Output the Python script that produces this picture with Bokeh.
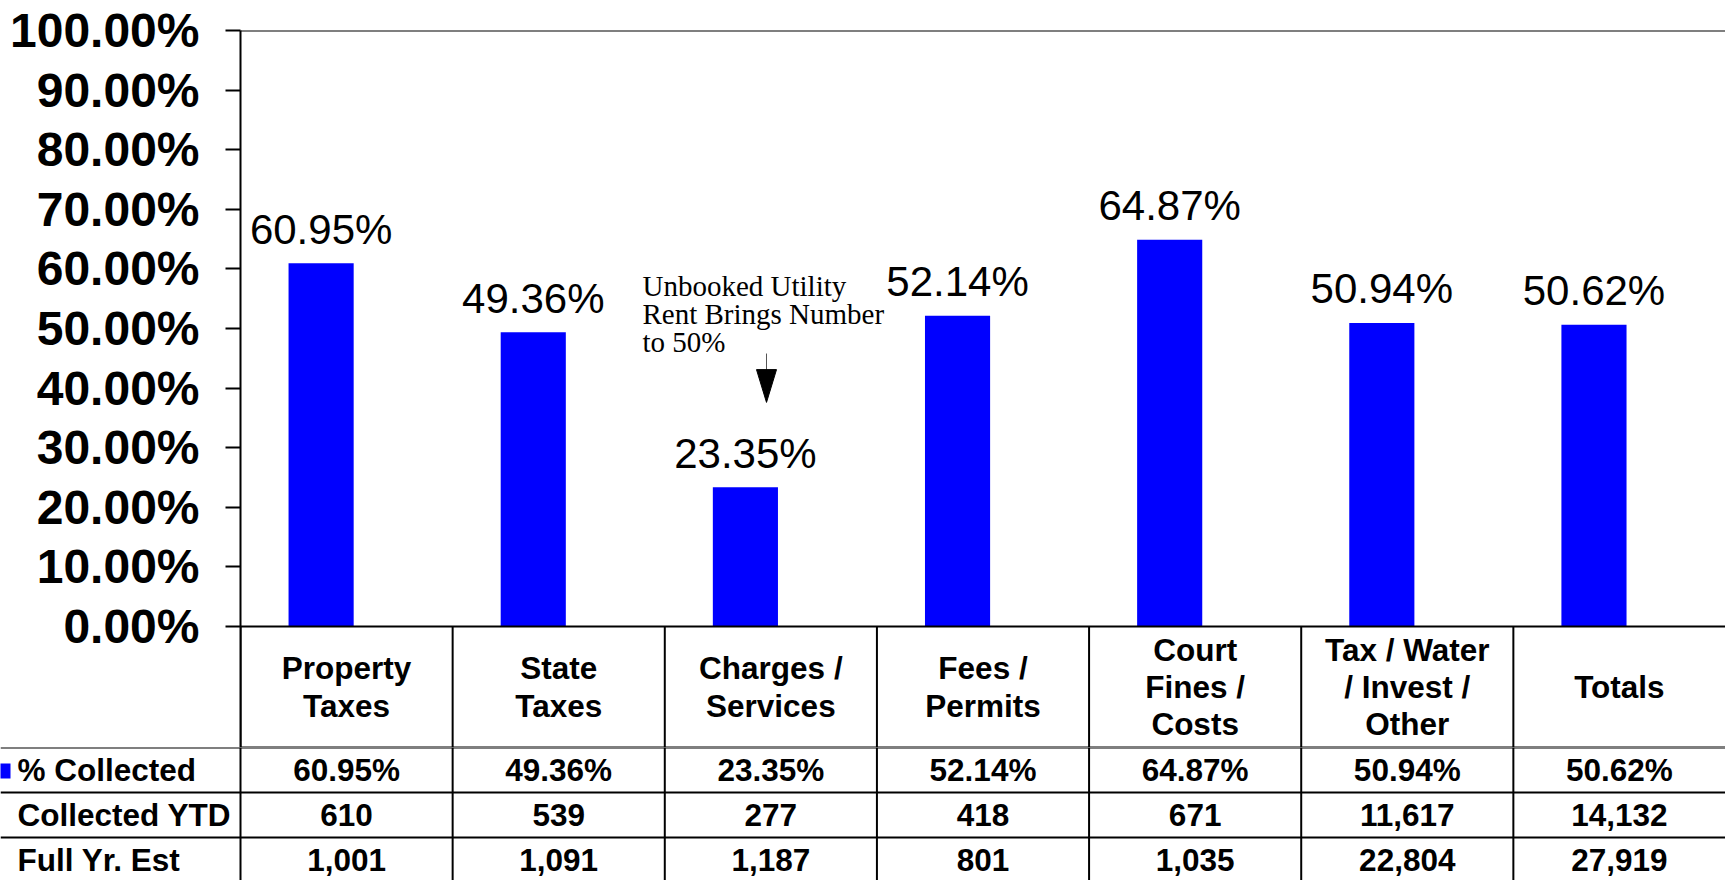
from bokeh.plotting import figure
from bokeh.models import (ColumnDataSource, FactorRange, Range1d, FixedTicker,
                          PrintfTickFormatter, Span, Label, AllLabels)
from bokeh.transform import dodge
from bokeh.core.properties import value
from bokeh.layouts import column
from bokeh.embed import file_html
from bokeh.resources import INLINE

# ---------------- data ----------------
categories = ["Property Taxes", "State Taxes", "Charges / Services", "Fees / Permits",
              "Court Fines / Costs", "Tax / Water / Invest / Other", "Totals"]
header_labels = ["Property\nTaxes", "State\nTaxes", "Charges /\nServices", "Fees /\nPermits",
                 "Court\nFines /\nCosts", "Tax / Water\n/ Invest /\nOther", "Totals"]
pct_collected = [60.95, 49.36, 23.35, 52.14, 64.87, 50.94, 50.62]
collected_ytd = [610, 539, 277, 418, 671, 11617, 14132]
full_year_est = [1001, 1091, 1187, 801, 1035, 22804, 27919]
row_labels = ["% Collected", "Collected YTD", "Full Yr. Est"]
y_ticks = [0, 10, 20, 30, 40, 50, 60, 70, 80, 90, 100]
note_text = "Unbooked Utility\nRent Brings Number\nto 50%"

# ---------------- layout constants ----------------
W = 1725
H = 880
LEFT_W = 240
TOP_B = 30
TOP_H = 747            # height of chart + header row figure
BOT_H = H - TOP_H      # height of table rows figure
PX_PER_PCT = 5.96
HEADER_PX = 121
ROW_PX = 45
COL_W = (W - LEFT_W) / len(categories)
HEADER_H = HEADER_PX / PX_PER_PCT
BAR_OFFSET = -0.12
BAR_W = 0.307
BLUE = "#0000FF"
FONT = "Liberation Sans"

# annotation placement (chart coordinates)
ANN_X = (642 - LEFT_W) / COL_W
ANN_Y = 59.8
ARROW_X = (766 - LEFT_W) / COL_W
ARROW_TOP = 45.8
ARROW_NECK = 43.1
ARROW_TIP = 37.6
ARROW_HALF = 10 / COL_W

src = ColumnDataSource(dict(
    cat=categories,
    hdr=header_labels,
    pct=pct_collected,
    pct_lbl=[f"{v:.2f}%" for v in pct_collected],
    ytd_lbl=[f"{v:,}" for v in collected_ytd],
    full_lbl=[f"{v:,}" for v in full_year_est],
    xc=[i + 0.5 for i in range(len(categories))],
))

# ---------------- top figure: bars + header row ----------------
p = figure(width=W, height=TOP_H, x_range=FactorRange(factors=categories),
           y_range=Range1d(-HEADER_H, 100), x_axis_location=None,
           toolbar_location=None, output_backend="svg",
           min_border_left=LEFT_W, min_border_right=0, min_border_top=TOP_B,
           min_border_bottom=0)
p.outline_line_color = None
p.background_fill_color = "white"
p.border_fill_color = "white"
p.xgrid.visible = False
p.ygrid.visible = False

ax = p.yaxis[0]
ax.ticker = FixedTicker(ticks=y_ticks)
ax.formatter = PrintfTickFormatter(format="%.2f%%")
ax.major_label_policy = AllLabels()
ax.major_tick_out = 15
ax.major_tick_in = 0
ax.minor_tick_line_color = None
ax.axis_line_width = 2
ax.axis_line_color = "black"
ax.major_tick_line_width = 2
ax.major_tick_line_color = "black"
ax.major_label_text_font = FONT
ax.major_label_text_font_style = "bold"
ax.major_label_text_font_size = "48px"
ax.major_label_text_color = "black"
ax.major_label_standoff = 26

p.add_layout(Span(location=100, dimension="width", line_color="black", line_width=2))
p.add_layout(Span(location=0, dimension="width", line_color="black", line_width=2))
p.add_layout(Span(location=-HEADER_H, dimension="width", line_color="black", line_width=2))

p.vbar(x=dodge("cat", BAR_OFFSET, range=p.x_range), top="pct", bottom=0, width=BAR_W,
       source=src, fill_color=BLUE, line_color=None)
p.text(x=dodge("cat", BAR_OFFSET, range=p.x_range), y="pct", text="pct_lbl", source=src,
       text_font=value(FONT), text_font_size="42px", text_align="center",
       text_baseline="middle", y_offset=-34, text_color="black")

# header row
p.segment(x0=dodge("cat", -0.5, range=p.x_range), x1=dodge("cat", -0.5, range=p.x_range),
          y0=0, y1=-HEADER_H, source=src, line_color="black", line_width=2)
p.text(x="cat", y=-HEADER_H / 2, text="hdr", source=src, text_font=value(FONT),
       text_font_style="bold", text_font_size="31.5px", text_align="center",
       text_baseline="middle", text_line_height=1.03, text_color="black")

# annotation
p.add_layout(Label(x=ANN_X, y=ANN_Y, text=note_text, text_font="Liberation Serif",
                   text_font_size="29px", text_baseline="top", text_align="left",
                   text_line_height=0.875, text_color="black"))
p.segment(x0=[ARROW_X], x1=[ARROW_X], y0=[ARROW_TOP], y1=[ARROW_NECK],
          line_color="#555555", line_width=1)
p.patch(x=[ARROW_X - ARROW_HALF, ARROW_X + ARROW_HALF, ARROW_X],
        y=[ARROW_NECK, ARROW_NECK, ARROW_TIP], fill_color="black", line_color="black")

# ---------------- bottom figure: data table rows ----------------
x_start = -LEFT_W / COL_W
q = figure(width=W, height=BOT_H, x_range=Range1d(x_start, len(categories)),
           y_range=Range1d(BOT_H / ROW_PX, 0), x_axis_location=None, y_axis_location=None,
           toolbar_location=None, output_backend="svg", min_border=0)
q.outline_line_color = None
q.background_fill_color = "white"
q.border_fill_color = "white"
q.xgrid.visible = False
q.ygrid.visible = False

for fig in (p, q):
    try:
        fig.frame_align = False
    except Exception:
        pass

for r in range(len(row_labels)):
    q.add_layout(Span(location=r, dimension="width", line_color="black", line_width=2))
for i in range(len(categories)):
    q.add_layout(Span(location=i, dimension="height", line_color="black", line_width=2))

for r, col in enumerate(["pct_lbl", "ytd_lbl", "full_lbl"]):
    q.text(x="xc", y=r + 0.5, text=col, source=src, text_font=value(FONT),
           text_font_style="bold", text_font_size="31.5px", text_align="center",
           text_baseline="middle", text_color="black")

lbl_src = ColumnDataSource(dict(
    x=[x_start + 17 / COL_W] * len(row_labels),
    y=[r + 0.5 for r in range(len(row_labels))],
    t=row_labels,
))
q.text(x="x", y="y", text="t", source=lbl_src, text_font=value(FONT),
       text_font_style="bold", text_font_size="31.5px", text_align="left",
       text_baseline="middle", text_color="black")

q.rect(x=[x_start + 2.5 / COL_W], y=[0.52], width=15, height=15,
       width_units="screen", height_units="screen", fill_color=BLUE, line_color=None)

layout = column(p, q, spacing=0)

open("out.html", "w").write(file_html(layout, INLINE))
